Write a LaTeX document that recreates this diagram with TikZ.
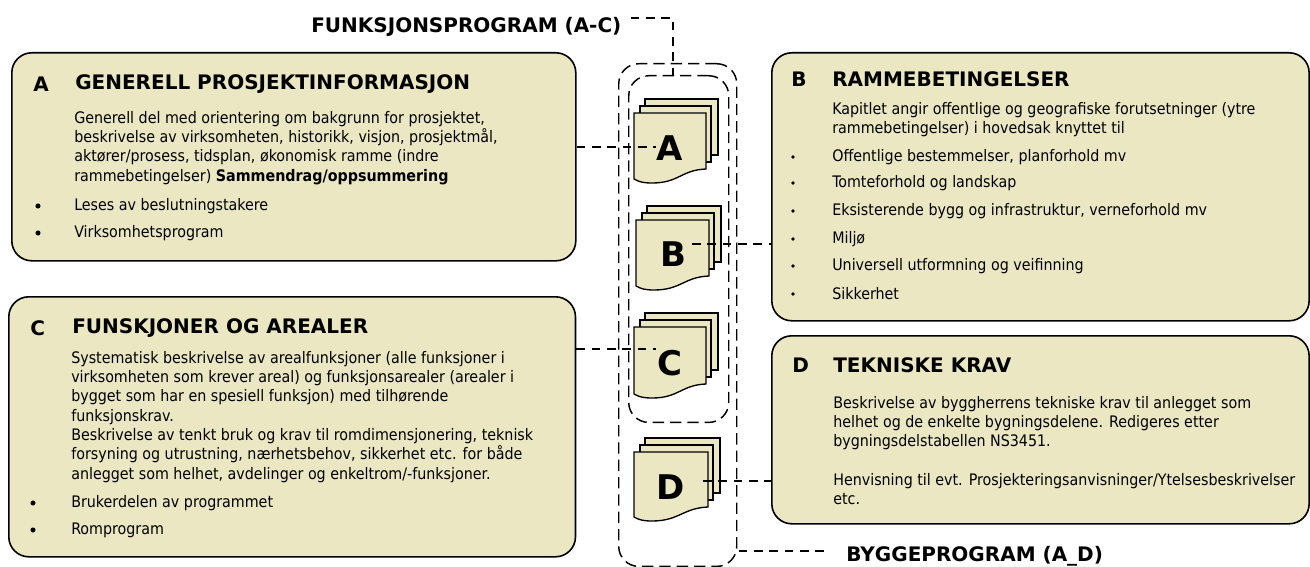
\documentclass[tikz,border=0pt]{standalone}
\usepackage{fontspec}
\setmainfont{DejaVu Sans Condensed}
\newfontfamily\headfont{DejaVu Sans}
\definecolor{boxfill}{HTML}{EBE7C3}
\tikzset{
  boxnode/.style={draw, fill=boxfill, line width=1.2pt, rounded corners=15pt, anchor=north west, inner sep=0pt},
  groupnode/.style={draw, line width=1.1pt, dash pattern=on 8.5pt off 4.5pt, rounded corners=15pt, anchor=north west, inner sep=0pt},
  sheet/.style={draw, fill=boxfill, line width=1pt},
  dashline/.style={line width=0.85pt, dash pattern=on 6.5pt off 5pt},
  headtext/.style={anchor=west, inner sep=0pt, font=\headfont\fontsize{15}{18}\selectfont\bfseries},
  bodytext/.style={anchor=north west, inner sep=0pt, align=left, font=\fontsize{11.9}{14.5}\selectfont},
  itemtext/.style={anchor=west, inner sep=0pt, font=\fontsize{11.9}{14.5}\selectfont},
  dotmark/.style={circle, fill, inner sep=0pt, minimum size=#1},
  bigletter/.style={inner sep=0pt, font=\headfont\fontsize{25.5}{30}\selectfont\bfseries},
}
% stack of three sheets: left, top, right, lower edge (back, middle, front)
\newcommand{\docstack}[8]{
  \draw[sheet] (#1+11,#2-14) rectangle (#3+12,#4-14); % back sheet
  \draw[sheet] (#1+6,#2-7) rectangle (#3+5,#4-7); % middle sheet
  \draw[sheet] (#1,#2) -- (#3,#2) -- (#3,#4) .. controls (#3-25,#4+1) and (#1+45,#4+14) .. (#1+18,#4+14) .. controls (#1+10,#4+14) and (#1+5,#4+13) .. (#1,#4+10) -- cycle; % front sheet
  \node[bigletter] (#5) at (#6,#7) {#8};
}
\begin{document}
\begin{tikzpicture}[x=0.75pt,y=-0.75pt]
  \useasboundingbox (0,0) rectangle (1310,567);

  \node[boxnode, minimum width=423pt, minimum height=156pt] (boxA) at (11,52) {}; % generell
  \node[boxnode, minimum width=425pt, minimum height=195pt] (boxC) at (8,296) {}; % funksjoner
  \node[boxnode, minimum width=403pt, minimum height=201pt] (boxB) at (771,52) {}; % rammebetingelser
  \node[boxnode, minimum width=403pt, minimum height=141pt] (boxD) at (771,335) {}; % tekniske krav

  \node[groupnode, minimum width=88.5pt, minimum height=377pt] (groupall) at (618,63) {}; % byggeprogram
  \node[groupnode, minimum width=75pt, minimum height=260pt] (groupfunc) at (628,75) {}; % funksjonsprogram

  \docstack{634}{113}{706}{169}{docA}{670}{148}{A}
  \docstack{636}{220}{709}{276}{docB}{673}{254}{B}
  \docstack{634}{327}{706}{384}{docC}{670}{363}{C}
  \docstack{634}{452}{708}{507}{docD}{671}{487}{D}

  \node[headtext] (labelfunc) at (311,27) {FUNKSJONSPROGRAM (A-C)};
  \node[headtext] (labelbygg) at (846,556) {BYGGEPROGRAM (A\_D)};

  \coordinate (endfunc) at (673,81);
  \coordinate (endbygg) at (732,551);
  \coordinate (endA) at (656,147);
  \coordinate (endB) at (692,244);
  \coordinate (endC) at (656,349);
  \coordinate (endD) at (703,481);
  \draw[dashline] (labelfunc.east |- 0,18) ++(9,0) -| (endfunc); % to inner group
  \draw[dashline] (labelbygg.west |- endbygg) ++(-22,0) -- (endbygg); % to outer group
  \draw[dashline] (boxA.east |- endA) -- (endA);
  \draw[dashline] (endB) -- (boxB.west |- endB);
  \draw[dashline] (boxC.east |- endC) -- (endC);
  \draw[dashline] (endD) -- (boxD.west |- endD);

  % box A
  \node[headtext] (letterA) at (33,84) {A};
  \node[headtext] (titleA) at (75,84) {GENERELL PROSJEKTINFORMASJON};
  \node[bodytext] (bodyA) at (74,111) {Generell del med orientering om bakgrunn for prosjektet,\\beskrivelse av virksomheten, historikk, visjon, prosjektmål,\\aktører/prosess, tidsplan, økonomisk ramme (indre\\rammebetingelser) \textbf{Sammendrag/oppsummering}};
  \node[dotmark=3.8pt] (dotA1) at (38,206) {};
  \node[itemtext] (itemA1) at (74,206) {Leses av beslutningstakere};
  \node[dotmark=3.8pt] (dotA2) at (38,233) {};
  \node[itemtext] (itemA2) at (74,233) {Virksomhetsprogram};

  % box C
  \node[headtext] (letterC) at (30,328) {C};
  \node[headtext] (titleC) at (72,328) {FUNSKJONER OG AREALER};
  \node[bodytext] (bodyC) at (71,351) {Systematisk beskrivelse av arealfunksjoner (alle funksjoner i\\virksomheten som krever areal) og funksjonsarealer (arealer i\\bygget som har en spesiell funksjon) med tilhørende\\funksjonskrav.\\Beskrivelse av tenkt bruk og krav til romdimensjonering, teknisk\\forsyning og utrustning, nærhetsbehov, sikkerhet etc. for både\\anlegget som helhet, avdelinger og enkeltrom/-funksjoner.};
  \node[dotmark=3.8pt] (dotC1) at (33,503) {};
  \node[itemtext] (itemC1) at (71,503) {Brukerdelen av programmet};
  \node[dotmark=3.8pt] (dotC2) at (33,530) {};
  \node[itemtext] (itemC2) at (71,530) {Romprogram};

  % box B
  \node[headtext] (letterB) at (791,79) {B};
  \node[headtext] (titleB) at (832,79) {RAMMEBETINGELSER};
  \node[bodytext] (bodyB) at (832,102) {Kapitlet angir offentlige og geografiske forutsetninger (ytre\\rammebetingelser) i hovedsak knyttet til};
  \foreach \ypos/\name/\txt in {157/1/{Offentlige bestemmelser, planforhold mv},183/2/{Tomteforhold og landskap},211/3/{Eksisterende bygg og infrastruktur, verneforhold mv},239/4/{Miljø},266/5/{Universell utformning og veifinning},294/6/{Sikkerhet}}{
    \node[dotmark=2.8pt] (dotB\name) at (793,\ypos) {};
    \node[itemtext] (itemB\name) at (832,\ypos) {\txt};
  }

  % box D
  \node[headtext] (letterD) at (792,365) {D};
  \node[headtext] (titleD) at (833,365) {TEKNISKE KRAV};
  \node[bodytext] (bodyD) at (833,396) {Beskrivelse av byggherrens tekniske krav til anlegget som\\helhet og de enkelte bygningsdelene. Redigeres etter\\bygningsdelstabellen NS3451.\\[14.5pt]Henvisning til evt. Prosjekteringsanvisninger/Ytelsesbeskrivelser\\etc.};
\end{tikzpicture}
\end{document}
